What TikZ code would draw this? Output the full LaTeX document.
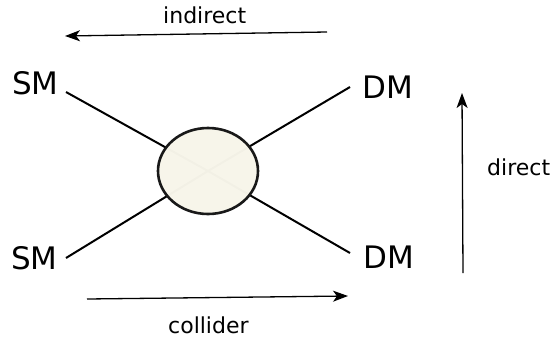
\documentclass[tikz,border=0pt]{standalone}
\usepackage{fontspec}
\setmainfont{DejaVu Sans}
\usetikzlibrary{arrows.meta}
\usetikzlibrary{shapes.geometric}
\definecolor{cream}{HTML}{F7F5EA}
\tikzset{
  particle/.style={inner sep=0pt, font=\fontsize{31}{31}\selectfont},
  lbl/.style={inner sep=0pt, anchor=base west, font=\fontsize{22}{22}\selectfont},
  leg/.style={line width=2pt, black},
  flow/.style={line width=1.3pt, -{Stealth[length=15pt,width=11pt,inset=4pt]}},
  blob/.style={ellipse, draw=black!90, line width=2.6pt, fill=cream, fill opacity=0.98, draw opacity=1, minimum width=100pt, minimum height=86pt, inner sep=0pt}
}
\begin{document}
\begin{tikzpicture}[x=1pt,y=-1pt]
\useasboundingbox (0,0) rectangle (551,338);
% particle labels
\node[particle] (smt) at (35.5,83) {SM};
\node[particle] (dmt) at (387.5,87) {DM};
\node[particle] (smb) at (34.5,258.5) {SM};
\node[particle] (dmb) at (388.5,257.5) {DM};
% leg ends
\coordinate (c) at (208,171);
\coordinate (e1) at (66,92);
\coordinate (e2) at (350,87);
\coordinate (e3) at (66,258);
\coordinate (e4) at (350,253);
\draw[leg] (e1) -- (c);
\draw[leg] (e2) -- (c);
\draw[leg] (e3) -- (c);
\draw[leg] (e4) -- (c);
\node[blob] (v) at (c) {};
% arrows
\coordinate (i1) at (327,32);
\coordinate (i2) at (65,36);
\draw[flow] (i1) -- (i2);
\coordinate (k1) at (87,299);
\coordinate (k2) at (348,296);
\draw[flow] (k1) -- (k2);
\coordinate (d1) at (463,273);
\coordinate (d2) at (462,93);
\draw[flow] (d1) -- (d2);
% labels
\node[lbl] (tind) at (163,23) {indirect};
\node[lbl] (tcol) at (168,333) {collider};
\node[lbl] (tdir) at (487,175) {direct};
\end{tikzpicture}
\end{document}
